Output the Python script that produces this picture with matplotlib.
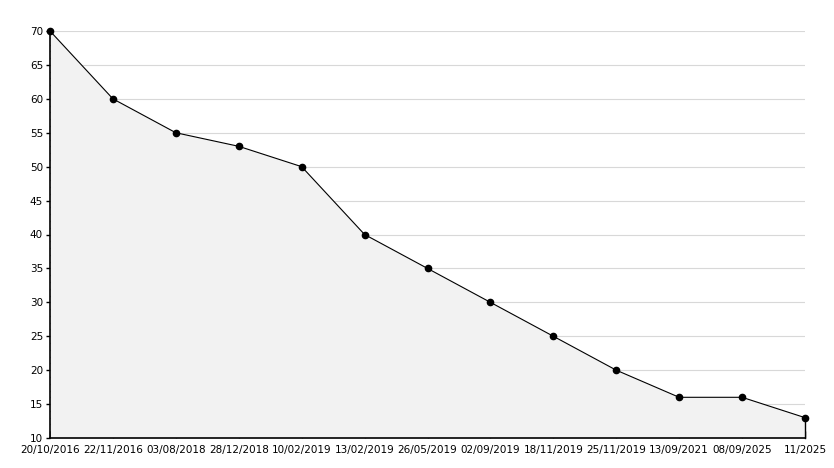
import matplotlib.pyplot as plt
from matplotlib.ticker import MultipleLocator

dates = ['20/10/2016', '22/11/2016', '03/08/2018', '28/12/2018', '10/02/2019',
         '13/02/2019', '26/05/2019', '02/09/2019', '18/11/2019', '25/11/2019',
         '13/09/2021', '08/09/2025', '11/2025']
values = [70, 60, 55, 53, 50, 40, 35, 30, 25, 20, 16, 16, 13]

fig = plt.figure(figsize=(8.34, 4.68), dpi=100)
ax = fig.add_axes([50 / 834, 1 - 438 / 468, 755 / 834, 407 / 468])

x = list(range(len(values)))
# grid sits at 1.5 (axisbelow='line'), fill above it, ticks/spines above fill
ax.fill_between(x, values, 10, color='#f2f2f2', linewidth=0, zorder=2)
ax.plot([x[-1], x[-1]], [10, values[-1]], color='black', linewidth=1, zorder=3, clip_on=False)
ax.plot(x, values, color='black', linewidth=0.8, marker='o', markersize=4.5,
        zorder=4, clip_on=False)

ax.set_xlim(0, len(values) - 1)
ax.set_ylim(10, 70)
ax.yaxis.set_major_locator(MultipleLocator(5))
ax.yaxis.set_minor_locator(MultipleLocator(1))
ax.set_xticks(x)
ax.set_xticklabels(dates)

ax.set_axisbelow('line')
ax.grid(axis='y', color='#d8d8d8', linewidth=0.8)

for side in ['top', 'right']:
    ax.spines[side].set_visible(False)
for side in ['left', 'bottom']:
    ax.spines[side].set_linewidth(1.2)
    ax.spines[side].set_zorder(5)

ax.tick_params(axis='y', which='major', direction='out', length=3, width=1, labelsize=7.5, pad=2)
ax.tick_params(axis='y', which='minor', direction='in', length=4, width=1)
ax.tick_params(axis='x', which='major', direction='in', length=5, width=1, labelsize=7.5, pad=5)

plt.savefig('out.png', dpi=100)
